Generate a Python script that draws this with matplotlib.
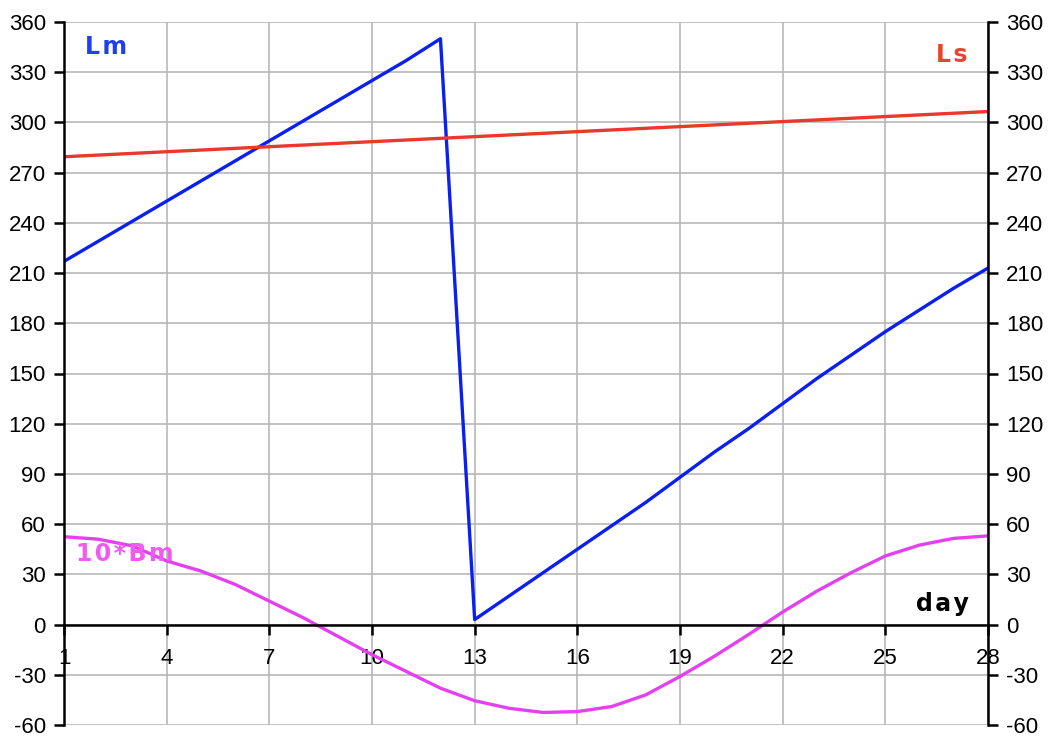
import matplotlib
matplotlib.use('Agg')
import matplotlib.pyplot as plt

# daily values
days = list(range(1, 29))
lm = [217, 229, 241, 253, 265, 277, 289, 301, 313, 325, 337, 350,
      3, 17, 31, 45, 59, 73, 88, 103, 117, 132, 147, 161, 175, 188, 201, 213]
ls = [279.5, 280.5, 281.5, 282.5, 283.5, 284.5, 285.5, 286.5, 287.5, 288.5,
      289.5, 290.5, 291.5, 292.5, 293.5, 294.5, 295.5, 296.5, 297.5, 298.5,
      299.5, 300.5, 301.5, 302.5, 303.5, 304.5, 305.5, 306.5]
bm10 = [52.5, 51, 47, 38, 32, 24, 14, 4, -7, -18, -28, -38, -45.5, -50,
        -52.5, -52, -49, -42, -31, -19, -6, 7.5, 20, 31, 41, 47.5, 51.5, 53]

x_ticks = list(range(1, 29, 3))
y_ticks = list(range(-60, 361, 30))

plt.rcParams['font.family'] = ['Liberation Sans', 'DejaVu Sans']
plt.rcParams['axes.unicode_minus'] = False

fig = plt.figure(figsize=(10.56, 7.46), dpi=100)
ax = fig.add_axes([64 / 1056, 1 - 725 / 746, (988 - 64) / 1056, (725 - 22) / 746])

ax.plot(days, lm, color='#0a1ff0', lw=2.4, zorder=3)
ax.plot(days, ls, color='#e8392a', lw=2.4, zorder=3)
ax.plot(days, bm10, color='#e540f0', lw=2.4, zorder=3)

ax.set_xlim(1, 28)
ax.set_ylim(-60, 360)
ax.set_xticks(x_ticks)
ax.set_yticks(y_ticks)
ax.grid(True, color='#b8b8b8', lw=1.2, zorder=0)
ax.set_axisbelow(True)

ax.spines['top'].set_visible(False)
ax.spines['bottom'].set_position(('data', 0))
for s in ['bottom', 'left', 'right']:
    ax.spines[s].set_linewidth(1.8)
    ax.spines[s].set_zorder(4)

ax.tick_params(axis='y', which='both', left=True, right=True, labelleft=True, labelright=True,
               direction='out', length=7, width=1.8, labelsize=16, pad=6)
ax.tick_params(axis='x', direction='out', length=7, width=1.8, labelsize=16, pad=10)

sp = '\u200a'
lbl = dict(fontsize=17, fontweight='bold', family='DejaVu Sans', va='center')
ax.text(1.6, 345, sp.join('Lm'), color='#1f3ff5', ha='left', **lbl)
ax.text(26.95, 340, sp.join('Ls'), color='#e8452f', ha='center', **lbl)
ax.text(1.35, 42, sp.join('10*Bm'), color='#ee5cf0', ha='left', **lbl)
ax.text(27.45, 12, sp.join('day'), color='black', ha='right', **lbl)

fig.savefig('out.png', dpi=100)
